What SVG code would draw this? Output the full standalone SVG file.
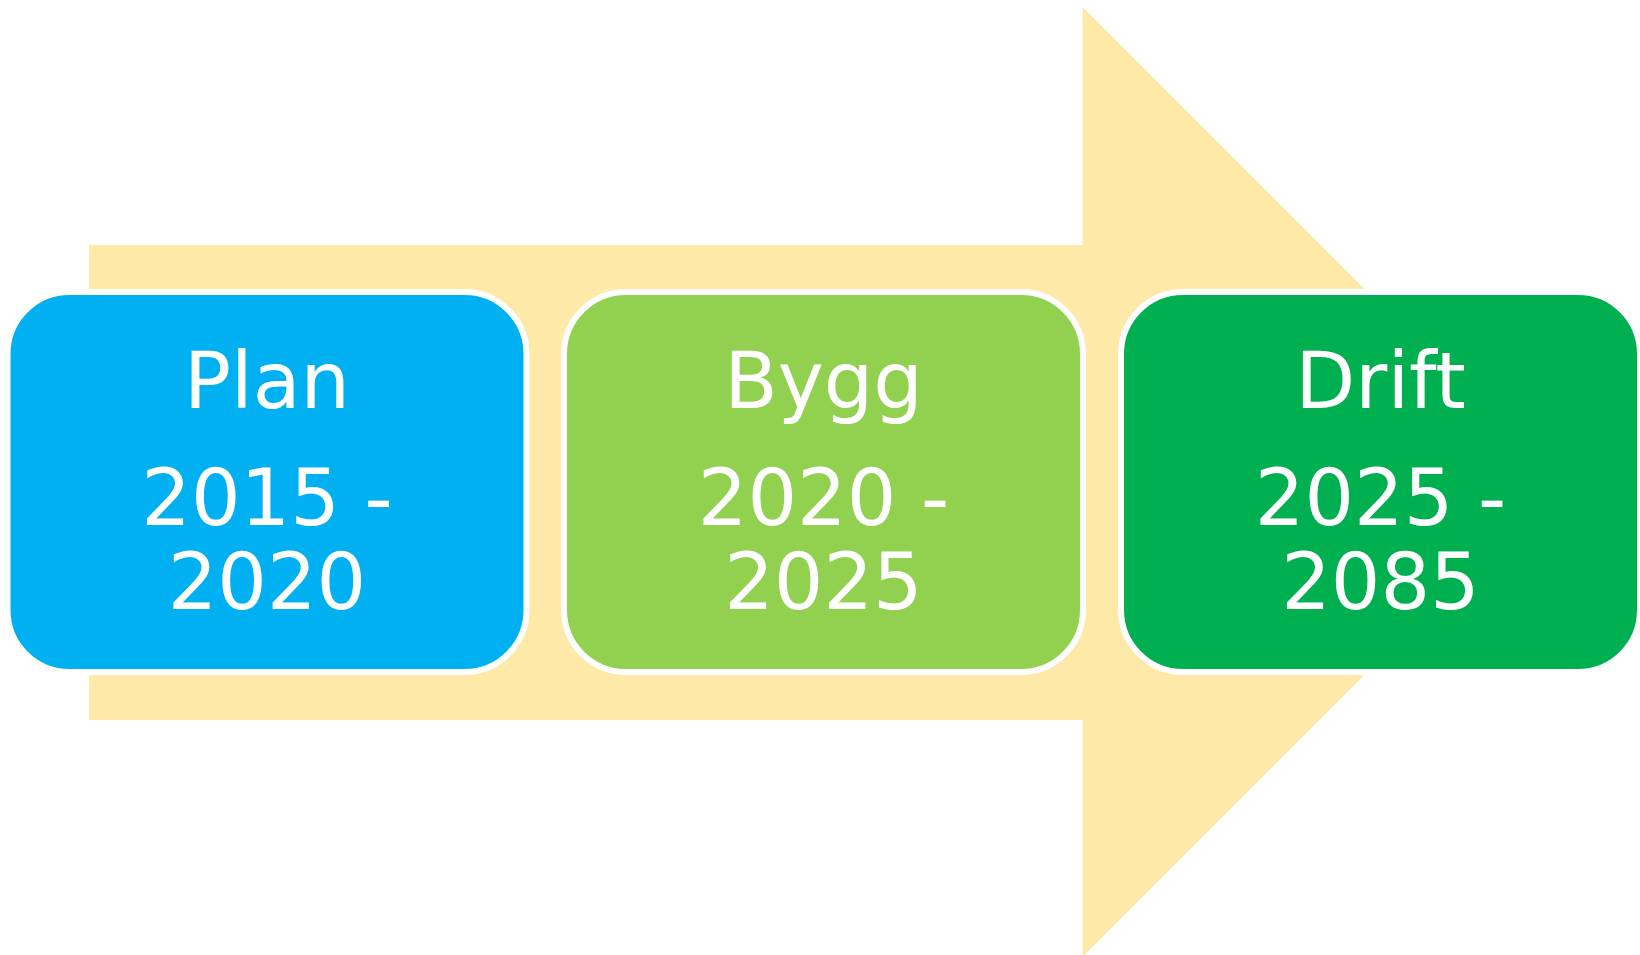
<svg xmlns="http://www.w3.org/2000/svg" width="1640" height="955" viewBox="0 0 1640 955">
<style>
.box{stroke:#FFFFFF;stroke-width:6}
.t{font-family:"DejaVu Sans",Verdana,sans-serif;font-size:78px;fill:#FFFFFF;text-anchor:middle}
</style>
<rect width="1640" height="955" fill="#FFFFFF"/>
<g id="arrow">
<polygon points="89,245 1082.5,245 1082.5,7 1557.5,482 1082.5,957 1082.5,720 89,720" fill="#FEE9A8"/>
</g>
<g id="connectors"></g>
<g id="plan">
<rect class="box" x="7.5" y="292" width="519" height="380" rx="62" ry="62" fill="#00B0F0"/>
<text class="t" x="267" y="408">Plan</text>
<text class="t" x="267" y="525">2015 -</text>
<text class="t" x="267" y="609">2020</text>
</g>
<g id="bygg">
<rect class="box" x="564" y="292" width="519" height="380" rx="62" ry="62" fill="#92D050"/>
<text class="t" x="823.5" y="408">Bygg</text>
<text class="t" x="823.5" y="525">2020 -</text>
<text class="t" x="823.5" y="609">2025</text>
</g>
<g id="drift">
<rect class="box" x="1121" y="292" width="519" height="380" rx="62" ry="62" fill="#00B050"/>
<text class="t" x="1380.5" y="408">Drift</text>
<text class="t" x="1380.5" y="525">2025 -</text>
<text class="t" x="1380.5" y="609">2085</text>
</g>
</svg>
